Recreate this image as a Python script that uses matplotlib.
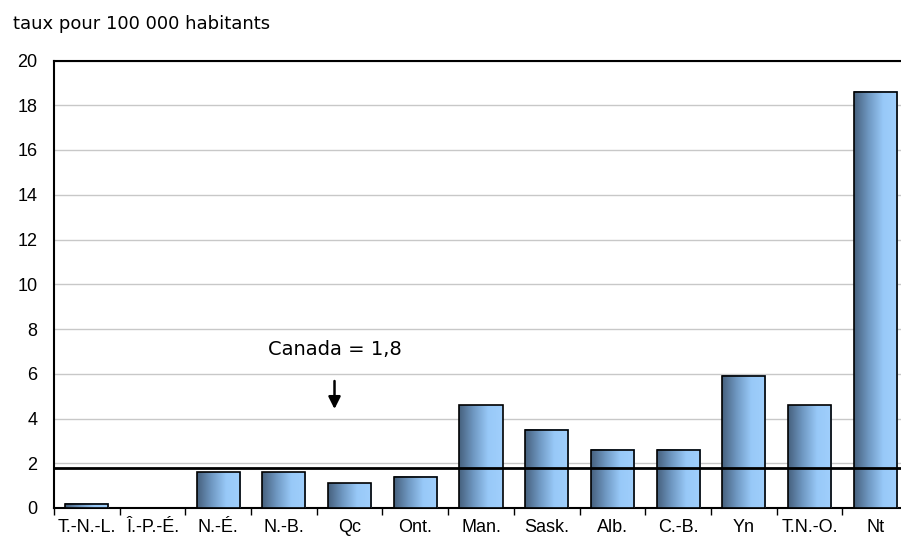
import numpy as np
import matplotlib.pyplot as plt
from matplotlib.colors import LinearSegmentedColormap

# donnees
provinces = ['T.-N.-L.', 'Î.-P.-É.', 'N.-É.', 'N.-B.', 'Qc', 'Ont.', 'Man.',
             'Sask.', 'Alb.', 'C.-B.', 'Yn', 'T.N.-O.', 'Nt']
taux = [0.2, 0.0, 1.6, 1.6, 1.1, 1.4, 4.6, 3.5, 2.6, 2.6, 5.9, 4.6, 18.6]
canada = 1.8
y_ticks = [0, 2, 4, 6, 8, 10, 12, 14, 16, 18, 20]

fig = plt.figure(figsize=(9.01, 5.4), dpi=100)
ax = fig.add_axes([54 / 901, 1 - 508 / 540, 854 / 901, 447.5 / 540])

cmap = LinearSegmentedColormap.from_list('bleu', ['#46607d', '#6f98c2', '#98c9f8', '#a0cffc'])
grad = np.linspace(0, 1, 256).reshape(1, -1)

x = np.arange(len(provinces))
width = 0.655
bars = ax.bar(x, taux, width=width, facecolor='none', edgecolor='black',
              linewidth=1.2, zorder=4)
for b in bars:
    if b.get_height() <= 0:
        continue
    x0 = b.get_x()
    ax.imshow(grad, extent=[x0, x0 + b.get_width(), 0, b.get_height()],
              aspect='auto', cmap=cmap, zorder=3, interpolation='bilinear')

ax.set_xlim(-0.5, len(provinces) - 0.5)
ax.set_ylim(0, 20)
ax.set_yticks(y_ticks)
ax.set_yticklabels([str(v) for v in y_ticks], fontsize=13, family='Liberation Sans')
ax.tick_params(axis='y', length=0, pad=12)

ax.set_xticks(x)
ax.set_xticklabels(provinces, fontsize=13, family='Liberation Sans')
ax.tick_params(axis='x', which='major', length=0, pad=8)
ax.set_xticks(np.arange(len(provinces) + 1) - 0.5, minor=True)
ax.tick_params(axis='x', which='minor', length=5, width=1, direction='out')

ax.grid(axis='y', color='#c8c8c8', linewidth=1, zorder=0)
ax.set_axisbelow(True)
for s in ['left', 'top', 'bottom']:
    ax.spines[s].set_linewidth(1.5)
ax.spines['right'].set_visible(False)

ax.axhline(canada, color='black', linewidth=2, zorder=5)
ax.annotate('', xy=(3.77, 4.3), xytext=(3.77, 5.8),
            arrowprops=dict(arrowstyle='-|>', color='black', lw=1.8, mutation_scale=18))
ax.text(3.77, 7.1, 'Canada = 1,8', ha='center', va='center', fontsize=14,
        family='DejaVu Sans')

fig.text(13 / 901, 1 - 24 / 540, 'taux pour 100 000 habitants', ha='left',
         va='center', fontsize=13, family='DejaVu Sans')

fig.savefig('out.png', dpi=100)
